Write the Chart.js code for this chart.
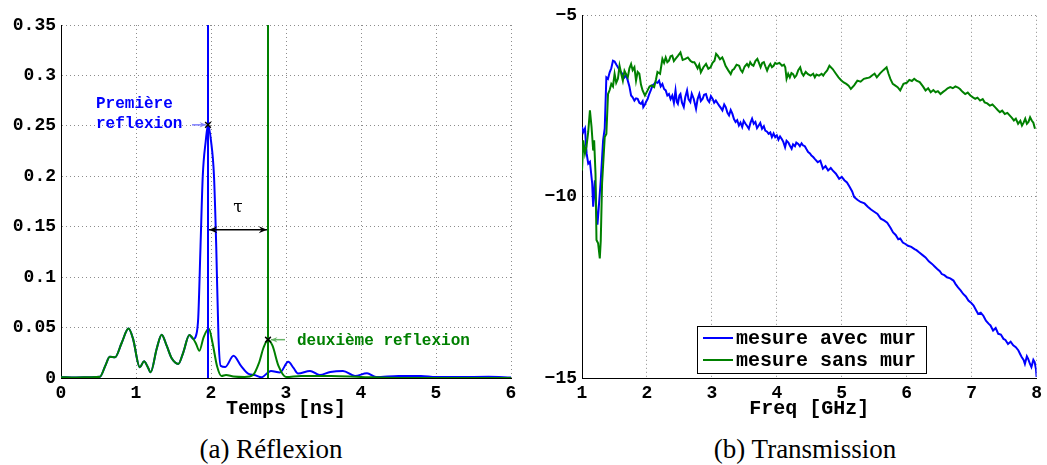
<!DOCTYPE html>
<html>
<head>
<meta charset="utf-8">
<script src="https://cdn.jsdelivr.net/npm/chart.js@4.4.1/dist/chart.umd.min.js"></script>
<style>
  body { margin: 0; background: #fff; width: 1047px; height: 465px; position: relative; overflow: hidden; }
  .panel { position: absolute; top: 0; }
  .legende { position: absolute; top: 434px; font-family: "Liberation Serif", serif; font-size: 27px; color: #000; white-space: nowrap; transform: translateX(-50%); }
</style>
</head>
<body>
<div class="panel" style="left:0"><canvas id="chart-reflexion" width="525" height="425"></canvas></div>
<div class="panel" style="left:530px"><canvas id="chart-transmission" width="517" height="425"></canvas></div>
<div class="legende" style="left:271px">(a) Réflexion</div>
<div class="legende" style="left:805px">(b) Transmission</div>
<script>
// ---- Réflexion : partie commune aux deux mesures (avant 1.8 ns)
const tempsCommun = [0, 0.2, 0.4, 0.52, 0.59, 0.65, 0.72, 0.81, 0.9, 0.96, 1.05, 1.107, 1.15, 1.195, 1.276, 1.342, 1.409, 1.476, 1.564, 1.631, 1.711, 1.764];
const reflCommun = [0.0008, 0.0005, 0.0008, 0.0013, 0.012, 0.021, 0.0205, 0.035, 0.049, 0.039, 0.0106, 0.0165, 0.012, 0.0056, 0.029, 0.0429, 0.032, 0.0195, 0.0139, 0.0255, 0.0426, 0.0387];

// avec mur (bleu)
const tempsAvec = [1.8, 1.83, 1.86, 1.89, 1.93, 1.96, 2.0, 2.04, 2.07, 2.1, 2.13, 2.19, 2.3, 2.4, 2.5, 2.58, 2.67, 2.8, 2.92, 3.03, 3.1, 3.16, 3.32, 3.45, 3.59, 3.76, 3.92, 4.08, 4.2, 4.5, 4.8, 5.0, 5.3, 5.7, 6.0];
const reflAvec = [0.042, 0.06, 0.13, 0.2, 0.235, 0.251, 0.235, 0.2, 0.13, 0.04, 0.012, 0.011, 0.022, 0.012, 0.004, 0.003, 0.0007, 0.007, 0.0055, 0.016, 0.01, 0.0045, 0.007, 0.003, 0.006, 0.007, 0.002, 0.0046, 0.001, 0.002, 0.002, 0.001, 0.001, 0.0012, 0.0005];

// sans mur (vert)
const tempsSans = [1.8, 1.845, 1.9, 1.97, 2.02, 2.08, 2.14, 2.2, 2.3, 2.45, 2.56, 2.64, 2.7, 2.76, 2.82, 2.9, 3.0, 3.2, 3.6, 4.0, 4.5, 6.0];
const reflSans = [0.034, 0.027, 0.04, 0.049, 0.035, 0.012, 0.002, 0.003, 0.0015, 0.001, 0.003, 0.015, 0.03, 0.038, 0.032, 0.012, 0.001, 0.002, 0.002, 0.001, 0, 0];

const picPremiere = [1.96, 0.251];
const picDeuxieme = [2.76, 0.038];
const niveauTau = 0.147;

const ticksTemps = [0, 1, 2, 3, 4, 5, 6];
const ticksReflexion = [0, 0.05, 0.1, 0.15, 0.2, 0.25, 0.3, 0.35];

// ---- Transmission
const freqAvec = [1.0, 1.02, 1.046, 1.071, 1.096, 1.122, 1.157, 1.172, 1.198, 1.223, 1.238, 1.259, 1.289, 1.325, 1.35, 1.375, 1.4, 1.426, 1.451, 1.477, 1.502, 1.53, 1.553, 1.578, 1.604, 1.629, 1.654, 1.68, 1.705, 1.73, 1.756, 1.78, 1.807, 1.832, 1.857, 1.883, 1.908, 1.933, 1.944, 1.969, 1.985, 2.01, 2.035, 2.06, 2.086, 2.111, 2.136, 2.162, 2.187, 2.212, 2.238, 2.264, 2.289, 2.314, 2.339, 2.364, 2.39, 2.415, 2.44, 2.46, 2.476, 2.5, 2.516, 2.54, 2.567, 2.59, 2.618, 2.64, 2.668, 2.69, 2.72, 2.756, 2.78, 2.807, 2.83, 2.858, 2.88, 2.909, 2.935, 2.959, 2.985, 3.01, 3.035, 3.061, 3.09, 3.112, 3.14, 3.162, 3.19, 3.213, 3.24, 3.264, 3.29, 3.315, 3.34, 3.365, 3.39, 3.416, 3.44, 3.467, 3.49, 3.518, 3.545, 3.569, 3.595, 3.619, 3.645, 3.67, 3.695, 3.721, 3.745, 3.772, 3.8, 3.822, 3.85, 3.873, 3.9, 3.924, 3.95, 3.975, 4.0, 4.025, 4.05, 4.076, 4.1, 4.127, 4.15, 4.178, 4.2, 4.228, 4.25, 4.279, 4.3, 4.33, 4.355, 4.381, 4.405, 4.431, 4.455, 4.482, 4.51, 4.533, 4.56, 4.584, 4.63, 4.67, 4.71, 4.75, 4.79, 4.83, 4.86, 4.91, 4.96, 5.0, 5.04, 5.08, 5.12, 5.16, 5.19, 5.24, 5.29, 5.35, 5.4, 5.45, 5.5, 5.55, 5.6, 5.65, 5.7, 5.75, 5.79, 5.83, 5.87, 5.9, 5.94, 5.98, 6.02, 6.07, 6.12, 6.15, 6.19, 6.24, 6.29, 6.34, 6.39, 6.43, 6.47, 6.51, 6.54, 6.58, 6.62, 6.67, 6.72, 6.75, 6.79, 6.83, 6.87, 6.91, 6.95, 6.99, 7.03, 7.06, 7.1, 7.14, 7.18, 7.22, 7.26, 7.29, 7.33, 7.37, 7.41, 7.45, 7.49, 7.52, 7.56, 7.6, 7.64, 7.68, 7.72, 7.75, 7.77, 7.8, 7.82, 7.85, 7.87, 7.9, 7.92, 7.95, 7.97, 7.99, 8.0];
const mesureAvec = [-8.07, -8.21, -8.11, -8.8, -9.08, -9.03, -9.63, -10.27, -9.54, -10.45, -10.77, -10.27, -9.54, -8.44, -8.11, -6.7, -6.74, -6.56, -6.45, -6.24, -6.26, -6.35, -6.42, -6.5, -6.56, -6.62, -6.7, -6.64, -6.79, -6.95, -7.2, -7.25, -7.34, -7.28, -7.29, -7.4, -7.43, -7.36, -7.52, -7.45, -7.38, -7.3, -7.16, -7.05, -6.92, -6.88, -6.83, -6.85, -6.79, -6.95, -6.88, -7.02, -7.06, -7.2, -7.16, -7.3, -7.2, -7.4, -7.06, -7.38, -7.43, -7.2, -7.16, -7.4, -7.52, -7.25, -7.06, -7.3, -7.38, -7.15, -7.29, -7.57, -7.3, -7.16, -7.35, -7.29, -7.18, -7.16, -7.32, -7.38, -7.22, -7.29, -7.4, -7.34, -7.42, -7.48, -7.55, -7.61, -7.45, -7.52, -7.68, -7.75, -7.6, -7.7, -7.85, -7.93, -7.88, -8.03, -7.95, -8.07, -7.9, -7.98, -8.05, -8.12, -7.95, -7.84, -7.98, -7.93, -8.1, -8.03, -7.96, -8.12, -8.05, -8.17, -8.2, -8.26, -8.22, -8.35, -8.25, -8.35, -8.3, -8.42, -8.33, -8.4, -8.48, -8.63, -8.45, -8.5, -8.58, -8.67, -8.55, -8.6, -8.5, -8.54, -8.6, -8.52, -8.58, -8.6, -8.68, -8.76, -8.8, -8.86, -8.9, -8.95, -9.04, -9.0, -9.22, -9.15, -9.27, -9.2, -9.27, -9.36, -9.5, -9.45, -9.54, -9.6, -9.72, -9.85, -10.0, -10.08, -10.14, -10.18, -10.27, -10.35, -10.41, -10.47, -10.6, -10.65, -10.71, -10.85, -10.98, -11.05, -11.17, -11.15, -11.26, -11.3, -11.35, -11.38, -11.44, -11.47, -11.53, -11.6, -11.67, -11.78, -11.85, -11.92, -11.99, -12.05, -12.13, -12.16, -12.22, -12.25, -12.31, -12.4, -12.5, -12.58, -12.68, -12.75, -12.86, -12.92, -13.0, -13.1, -13.23, -13.2, -13.28, -13.42, -13.5, -13.55, -13.69, -13.62, -13.78, -13.8, -13.92, -13.95, -14.06, -14.0, -14.1, -14.15, -14.24, -14.35, -14.42, -14.5, -14.61, -14.4, -14.47, -14.62, -14.7, -14.5, -14.56, -14.75, -14.97];

const freqSans = [1.0, 1.02, 1.046, 1.07, 1.096, 1.122, 1.147, 1.172, 1.187, 1.208, 1.223, 1.248, 1.274, 1.289, 1.309, 1.35, 1.375, 1.401, 1.426, 1.451, 1.477, 1.502, 1.527, 1.553, 1.578, 1.604, 1.629, 1.654, 1.68, 1.705, 1.73, 1.756, 1.78, 1.807, 1.832, 1.857, 1.883, 1.908, 1.933, 1.969, 2.01, 2.04, 2.07, 2.111, 2.14, 2.162, 2.202, 2.238, 2.264, 2.289, 2.314, 2.339, 2.364, 2.39, 2.415, 2.44, 2.48, 2.516, 2.55, 2.592, 2.63, 2.668, 2.7, 2.73, 2.755, 2.78, 2.805, 2.83, 2.87, 2.91, 2.945, 2.98, 3.01, 3.04, 3.065, 3.09, 3.125, 3.16, 3.185, 3.21, 3.25, 3.29, 3.315, 3.34, 3.38, 3.42, 3.445, 3.47, 3.505, 3.54, 3.565, 3.59, 3.615, 3.64, 3.67, 3.7, 3.725, 3.75, 3.775, 3.8, 3.825, 3.85, 3.875, 3.9, 3.925, 3.95, 3.975, 4.0, 4.04, 4.08, 4.11, 4.13, 4.15, 4.175, 4.2, 4.225, 4.25, 4.275, 4.3, 4.33, 4.36, 4.385, 4.41, 4.445, 4.48, 4.52, 4.56, 4.585, 4.61, 4.65, 4.69, 4.715, 4.74, 4.775, 4.81, 4.86, 4.91, 4.95, 4.99, 5.03, 5.07, 5.105, 5.14, 5.19, 5.24, 5.29, 5.34, 5.39, 5.43, 5.47, 5.505, 5.54, 5.59, 5.64, 5.69, 5.72, 5.75, 5.785, 5.82, 5.86, 5.9, 5.95, 6.0, 6.04, 6.08, 6.115, 6.15, 6.2, 6.25, 6.29, 6.33, 6.37, 6.41, 6.445, 6.48, 6.52, 6.56, 6.6, 6.63, 6.67, 6.71, 6.75, 6.79, 6.82, 6.86, 6.9, 6.94, 6.98, 7.02, 7.055, 7.09, 7.13, 7.17, 7.2, 7.24, 7.28, 7.32, 7.36, 7.4, 7.435, 7.47, 7.51, 7.55, 7.585, 7.62, 7.65, 7.68, 7.715, 7.75, 7.775, 7.8, 7.825, 7.85, 7.875, 7.9, 7.925, 7.95, 7.975, 8.0];
const mesureSans = [-9.27, -8.44, -8.8, -8.6, -8.2, -7.61, -8.07, -8.72, -8.44, -9.36, -11.19, -11.28, -11.7, -11.2, -9.63, -8.35, -8.26, -7.16, -7.05, -6.88, -6.95, -6.6, -6.85, -6.74, -6.38, -6.6, -6.79, -6.52, -6.62, -6.7, -6.45, -6.33, -6.5, -6.42, -6.79, -6.55, -6.6, -6.9, -7.06, -7.2, -7.06, -6.95, -6.92, -6.97, -6.75, -6.55, -6.6, -6.19, -6.3, -6.15, -6.28, -6.24, -6.12, -6.1, -6.25, -6.19, -6.1, -6.01, -6.22, -6.19, -6.15, -6.24, -6.28, -6.28, -6.36, -6.45, -6.35, -6.56, -6.42, -6.33, -6.46, -6.42, -6.3, -6.24, -6.05, -6.1, -6.2, -6.15, -6.25, -6.38, -6.5, -6.61, -6.5, -6.47, -6.35, -6.38, -6.5, -6.56, -6.4, -6.33, -6.4, -6.28, -6.35, -6.38, -6.25, -6.19, -6.3, -6.42, -6.3, -6.28, -6.4, -6.51, -6.4, -6.33, -6.42, -6.38, -6.3, -6.33, -6.3, -6.38, -6.35, -6.42, -6.74, -6.6, -6.7, -6.58, -6.61, -6.7, -6.65, -6.5, -6.42, -6.58, -6.65, -6.55, -6.61, -6.65, -6.6, -6.7, -6.62, -6.65, -6.6, -6.65, -6.58, -6.51, -6.38, -6.47, -6.6, -6.7, -6.78, -6.84, -6.88, -6.93, -7.02, -6.92, -6.79, -6.82, -6.74, -6.72, -6.7, -6.64, -6.6, -6.7, -6.59, -6.5, -6.42, -6.6, -6.75, -6.88, -6.92, -6.97, -7.06, -6.88, -6.85, -6.77, -6.8, -6.74, -6.79, -6.83, -6.95, -7.06, -7.0, -7.11, -7.05, -7.11, -7.08, -7.16, -7.1, -7.05, -7.0, -6.97, -7.0, -6.95, -6.98, -7.02, -7.1, -7.16, -7.12, -7.2, -7.25, -7.29, -7.26, -7.34, -7.3, -7.39, -7.42, -7.48, -7.45, -7.52, -7.6, -7.66, -7.62, -7.71, -7.68, -7.75, -7.82, -7.89, -7.84, -7.98, -7.9, -8.03, -7.95, -7.84, -7.98, -7.93, -7.8, -7.89, -7.95, -8.12];

const ticksFreq = [1, 2, 3, 4, 5, 6, 7, 8];
const ticksTransmission = [-15, -10, -5];
const libelles = ['mesure avec mur', 'mesure sans mur'];

const BLEU = '#0000ff';
const VERT = '#008000';
const POLICE = 'Liberation Mono';

function points(xs, ys) {
    return xs.map((x, i) => ({ x: x, y: ys[i] }));
}

function axeCommun(titre, ticksListe, min, max, afficheur) {
    return {
        type: 'linear',
        min: min,
        max: max,
        afterBuildTicks: axis => { axis.ticks = ticksListe.map(v => ({ value: v })); },
        ticks: {
            color: '#000',
            padding: 5,
            font: { family: POLICE, size: 18, weight: 'bold' },
            callback: afficheur
        },
        grid: { color: '#8c8c8c', lineWidth: 1, drawTicks: false },
        border: { display: true, color: '#000', width: 1, dash: [1, 3] },
        title: titre ? {
            display: true,
            text: titre,
            color: '#000',
            font: { family: POLICE, size: 20, weight: 'bold' },
            padding: { top: 0, bottom: 4 }
        } : { display: false }
    };
}

const fmtReflexion = v => v === 0 ? '0' : String(+v.toFixed(2));
const fmtMoins = v => String(v).replace('-', '\u2212');

// flèche simple
function fleche(ctx, x1, y1, x2, y2, couleur, taille) {
    const a = Math.atan2(y2 - y1, x2 - x1);
    ctx.strokeStyle = couleur;
    ctx.fillStyle = couleur;
    ctx.lineWidth = 1.5;
    ctx.beginPath();
    ctx.moveTo(x1, y1);
    ctx.lineTo(x2, y2);
    ctx.stroke();
    ctx.beginPath();
    ctx.moveTo(x2, y2);
    ctx.lineTo(x2 - taille * Math.cos(a - 0.4), y2 - taille * Math.sin(a - 0.4));
    ctx.lineTo(x2 - taille * 0.6 * Math.cos(a), y2 - taille * 0.6 * Math.sin(a));
    ctx.lineTo(x2 - taille * Math.cos(a + 0.4), y2 - taille * Math.sin(a + 0.4));
    ctx.closePath();
    ctx.fill();
}

const annotationsReflexion = {
    id: 'annotationsReflexion',
    afterDatasetsDraw(chart) {
        const { ctx, scales: { x, y } } = chart;
        const x1 = x.getPixelForValue(picPremiere[0]);
        const y1 = y.getPixelForValue(picPremiere[1]);
        const x2 = x.getPixelForValue(picDeuxieme[0]);
        const y2 = y.getPixelForValue(picDeuxieme[1]);
        ctx.save();
        ctx.font = 'bold 16px "' + POLICE + '"';
        ctx.textBaseline = 'middle';
        ctx.textAlign = 'left';

        // Première reflexion
        ctx.fillStyle = BLEU;
        ctx.fillText('Première', x1 - 112, y1 - 21);
        ctx.fillText('reflexion', x1 - 112, y1 - 1);
        fleche(ctx, x1 - 16, y1, x1 - 2, y1, '#7f7fff', 7);

        // deuxième reflexion
        ctx.fillStyle = VERT;
        ctx.fillText('deuxième reflexion', x2 + 29, y2 + 1);
        fleche(ctx, x2 + 17, y2, x2 + 3, y2, '#66b366', 7);

        // tau
        const yt = y.getPixelForValue(niveauTau);
        fleche(ctx, (x1 + x2) / 2, yt, x1 + 1, yt, '#000', 9);
        fleche(ctx, (x1 + x2) / 2, yt, x2 - 1, yt, '#000', 9);
        ctx.fillStyle = '#000';
        ctx.font = '17px "DejaVu Serif"';
        ctx.textAlign = 'center';
        ctx.fillText('τ', (x1 + x2) / 2, yt - 22);
        ctx.restore();
    }
};

const legendeTransmission = {
    id: 'legendeTransmission',
    afterDatasetsDraw(chart) {
        const { ctx, chartArea } = chart;
        const gauche = chartArea.left + 115;
        const haut = chartArea.bottom - 52;
        ctx.save();
        ctx.fillStyle = '#fff';
        ctx.fillRect(gauche, haut, 229, 47);
        ctx.strokeStyle = '#000';
        ctx.lineWidth = 1;
        ctx.strokeRect(gauche + 0.5, haut + 0.5, 229, 47);
        ctx.font = 'bold 20px "' + POLICE + '"';
        ctx.textBaseline = 'middle';
        ctx.fillStyle = '#000';
        [BLEU, VERT].forEach((c, i) => {
            const yy = haut + 12 + i * 22;
            ctx.strokeStyle = c;
            ctx.lineWidth = 2;
            ctx.beginPath();
            ctx.moveTo(gauche + 6, yy);
            ctx.lineTo(gauche + 36, yy);
            ctx.stroke();
            ctx.fillText(libelles[i], gauche + 39, yy + 1);
        });
        ctx.restore();
    }
};

const ligne = (donnees, couleur, ordre) => ({
    data: donnees,
    borderColor: couleur,
    borderWidth: 2,
    pointRadius: 0,
    fill: false,
    order: ordre
});

// Réflexion
new Chart(document.getElementById('chart-reflexion').getContext('2d'), {
    type: 'line',
    data: {
        datasets: [
            { type: 'scatter', data: [{ x: picPremiere[0], y: picPremiere[1] }, { x: picDeuxieme[0], y: picDeuxieme[1] }],
              pointStyle: 'crossRot', pointRadius: 4, borderColor: '#000', borderWidth: 1.5, order: 0 },
            ligne(points([picDeuxieme[0], picDeuxieme[0]], [0, 0.35]), VERT, 1),
            ligne(points([picPremiere[0], picPremiere[0]], [0, 0.35]), BLEU, 2),
            Object.assign(ligne(points(tempsCommun.concat(tempsSans), reflCommun.concat(reflSans)), VERT, 3), { cubicInterpolationMode: 'monotone' }),
            Object.assign(ligne(points(tempsCommun.concat(tempsAvec), reflCommun.concat(reflAvec)), BLEU, 4), { cubicInterpolationMode: 'monotone' })
        ]
    },
    options: {
        responsive: false,
        animation: false,
        devicePixelRatio: 1,
        layout: { padding: { top: 25, right: 14, left: 0, bottom: 0 } },
        plugins: { legend: { display: false }, tooltip: { enabled: false } },
        scales: {
            x: Object.assign(axeCommun('Temps [ns]', ticksTemps, 0, 6, v => String(v)), { afterFit: s => { s.height = 47; } }),
            y: Object.assign(axeCommun(null, ticksReflexion, 0, 0.35, fmtReflexion), { afterFit: s => { s.width = 61; } })
        }
    },
    plugins: [annotationsReflexion]
});

// Transmission
new Chart(document.getElementById('chart-transmission').getContext('2d'), {
    type: 'line',
    data: {
        datasets: [
            Object.assign(ligne(points(freqSans, mesureSans), VERT, 1), { label: libelles[1] }),
            Object.assign(ligne(points(freqAvec, mesureAvec), BLEU, 2), { label: libelles[0] })
        ]
    },
    options: {
        responsive: false,
        animation: false,
        devicePixelRatio: 1,
        layout: { padding: { top: 15, right: 5, left: 0, bottom: 0 } },
        plugins: { legend: { display: false }, tooltip: { enabled: false } },
        scales: {
            x: Object.assign(axeCommun('Freq [GHz]', ticksFreq, 1, 8, v => String(v)), { afterFit: s => { s.height = 47; } }),
            y: Object.assign(axeCommun(null, ticksTransmission, -15, -5, fmtMoins), { afterFit: s => { s.width = 52; } })
        }
    },
    plugins: [legendeTransmission]
});
</script>
</body>
</html>
